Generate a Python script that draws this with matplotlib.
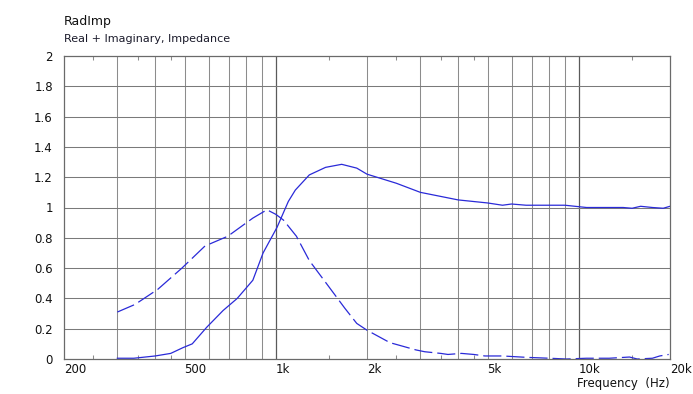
import matplotlib
matplotlib.use("Agg")
import matplotlib.pyplot as plt
from matplotlib.ticker import NullFormatter, FixedLocator

# real part (solid)
real_f = [300, 340, 400, 450, 494, 530, 592, 670, 746, 840, 908, 1010, 1100,
          1160, 1290, 1460, 1650, 1850, 2000, 2500, 3000, 4000, 5000, 5600,
          6000, 6700, 9000, 10600, 14000, 15000, 16000, 17500, 19000, 20000]
real_v = [0.005, 0.005, 0.02, 0.037, 0.075, 0.10, 0.21, 0.32, 0.40, 0.52,
          0.70, 0.87, 1.04, 1.115, 1.215, 1.265, 1.285, 1.26, 1.22, 1.16,
          1.10, 1.05, 1.03, 1.015, 1.023, 1.015, 1.015, 1.0, 1.0, 0.995,
          1.008, 1.0, 0.995, 1.008]

# imaginary part (dashed)
imag_f = [300, 343, 408, 490, 584, 694, 840, 935, 1000, 1060, 1170, 1290,
          1480, 1690, 1850, 2000, 2380, 2900, 3100, 3500, 3700, 4100, 4500,
          4900, 5600, 6700, 8000, 9100, 10600, 12600, 14700, 15600, 17500,
          18500, 19800]
imag_v = [0.31, 0.36, 0.46, 0.60, 0.746, 0.81, 0.93, 0.985, 0.955, 0.917,
          0.81, 0.65, 0.49, 0.335, 0.235, 0.19, 0.108, 0.06, 0.048, 0.037,
          0.03, 0.037, 0.03, 0.02, 0.02, 0.011, 0.005, 0.0, 0.005, 0.005,
          0.013, 0.0, 0.005, 0.02, 0.03]

xtick_pos = [200, 500, 1000, 2000, 5000, 10000, 20000]
xtick_lab = ["200", "500", "1k", "2k", "5k", "10k", "20k"]
grid_light = [300, 400, 500, 600, 700, 800, 900,
              2000, 3000, 4000, 5000, 6000, 7000, 8000, 9000]
grid_dark = [1000, 10000]
half_ticks = [250, 350, 450, 1500, 2500, 3500, 4500, 15000]
ytick_pos = [0, 0.2, 0.4, 0.6, 0.8, 1, 1.2, 1.4, 1.6, 1.8, 2]
ytick_lab = ["0", "0.2", "0.4", "0.6", "0.8", "1", "1.2", "1.4", "1.6", "1.8", "2"]

plt.rcParams['font.family'] = ['DejaVu Sans']
fig = plt.figure(figsize=(6.93, 3.94), dpi=100)
ax = fig.add_axes([64 / 693, 1 - 359 / 394, 606 / 693, 303 / 394])

line_col = '#2a2ad8'
ax.plot(real_f, real_v, color=line_col, lw=0.9)
ln, = ax.plot(imag_f, imag_v, color=line_col, lw=0.9)
ln.set_dashes((14.5, 4))

ax.set_xscale('log')
ax.set_xlim(200, 20000)
ax.set_ylim(0, 2)

for f in grid_light:
    ax.axvline(f, color='#8c8c8c', lw=0.75, zorder=0)
for f in grid_dark:
    ax.axvline(f, color='#5a5a5a', lw=0.9, zorder=0)
for v in ytick_pos[1:-1]:
    ax.axhline(v, color='#7a7a7a', lw=0.75, zorder=0)

ax.xaxis.set_major_locator(FixedLocator(xtick_pos))
ax.set_xticklabels(xtick_lab, ha='left')
ax.xaxis.set_minor_locator(FixedLocator(half_ticks))
ax.xaxis.set_minor_formatter(NullFormatter())
ax.tick_params(axis='x', which='major', length=0, pad=3, labelsize=8.5,
               colors='#111111')
ax.tick_params(axis='x', which='minor', direction='in', length=3,
               top=True, bottom=True, color='#8c8c8c', width=0.75)
ax.set_yticks(ytick_pos)
ax.set_yticklabels(ytick_lab)
ax.tick_params(axis='y', length=0, pad=8, labelsize=8.5, colors='#111111')

for s in ax.spines.values():
    s.set_color('#6a6a6a')
    s.set_linewidth(0.9)

fig.text(64 / 693, 1 - 22 / 394, "RadImp", fontsize=9, va='center',
         ha='left', color='#111111')
fig.text(64 / 693, 1 - 39 / 394, "Real + Imaginary, Impedance", fontsize=8,
         va='center', ha='left', color='#1a1a2a')
fig.text(670 / 693, 1 - 384 / 394, "Frequency  (Hz)", fontsize=8.5,
         va='center', ha='right', color='#111111')

fig.savefig("out.png", dpi=100)
